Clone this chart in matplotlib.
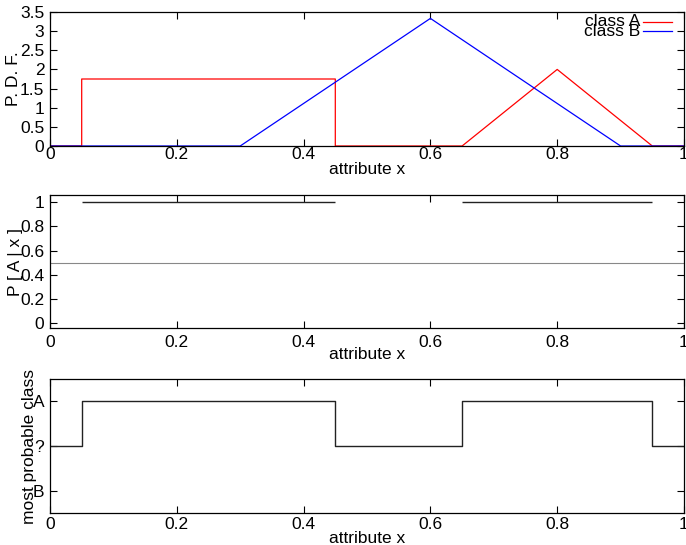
import numpy as np
import matplotlib
matplotlib.use("Agg")
import matplotlib.pyplot as plt

plt.rcParams['font.family'] = ['Liberation Sans', 'DejaVu Sans']
plt.rcParams['font.size'] = 12.5

# pdf of each class
x_a = [0, 0.05, 0.05, 0.45, 0.45, 0.65, 0.8, 0.95, 1]
pdf_a = [0, 0, 1.75, 1.75, 0, 0, 2, 0, 0]
x_b = [0, 0.3, 0.6, 0.9, 1]
pdf_b = [0, 0, 3.333, 0, 0]

# P[A|x] where defined
seg_starts = [0.05, 0.65]
seg_ends = [0.45, 0.95]
seg_vals = [1, 1]
threshold = 0.5

# most probable class (1 = A, 0 = ?, -1 = B)
x_cls = [0, 0.05, 0.05, 0.45, 0.45, 0.65, 0.65, 0.95, 0.95, 1]
cls = [0, 0, 1, 1, 0, 0, 1, 1, 0, 0]
cls_ticks = [-1, 0, 1]
cls_labels = ['B', '?', 'A']

xticks = [0, 0.2, 0.4, 0.6, 0.8, 1]
xticklabels = ['0', '0.2', '0.4', '0.6', '0.8', '1']

fig = plt.figure(figsize=(6.86, 5.45), dpi=100)
W, H = 686, 545
left, right = 50, 684

def make_ax(top, bottom):
    ax = fig.add_axes([left / W, 1 - bottom / H, (right - left) / W, (bottom - top) / H])
    ax.set_xlim(0, 1)
    ax.set_xticks(xticks)
    ax.set_xticklabels(xticklabels)
    ax.tick_params(direction='in', length=5, width=0.8, top=True, right=True, colors='black')
    ax.tick_params(axis='y', pad=4)
    for s in ax.spines.values():
        s.set_linewidth(0.9)
    return ax

# top panel
ax1 = make_ax(12, 146)
ax1.plot(x_a, pdf_a, color='#ff0000', lw=0.9)
ax1.plot(x_b, pdf_b, color='#0000ff', lw=0.9)
ax1.set_ylim(0, 3.5)
ax1.set_yticks(np.arange(0, 3.51, 0.5))
ax1.set_yticklabels(['0', '0.5', '1', '1.5', '2', '2.5', '3', '3.5'])
ax1.tick_params(axis='x', pad=1)
ax1.set_xlabel('attribute x', labelpad=0)
ax1.set_ylabel('P. D. F.', va='center')
ax1.yaxis.set_label_coords(-0.058, 0.5)
# legend
for lbl, col, yy in [('class A', '#ff0000', 22), ('class B', '#0000ff', 31)]:
    yf = 1 - (yy - 12) / 134
    ax1.text((640 - left) / 634, yf, lbl, ha='right', va='center', transform=ax1.transAxes)
    ax1.plot([(643 - left) / 634, (672 - left) / 634], [yf, yf], color=col, lw=0.9,
             transform=ax1.transAxes)

# middle panel
ax2 = make_ax(195, 328)
ax2.axhline(threshold, color='#888888', lw=0.8)
ax2.hlines(seg_vals, seg_starts, seg_ends, color='#222222', lw=1.0)
ax2.set_ylim(-0.04, 1.06)
ax2.set_yticks([0, 0.2, 0.4, 0.6, 0.8, 1])
ax2.set_yticklabels(['0', '0.2', '0.4', '0.6', '0.8', '1'])
ax2.tick_params(axis='x', pad=5)
ax2.set_xlabel('attribute x', labelpad=-2)
ax2.set_ylabel('P [ A | x ]', va='center')
ax2.yaxis.set_label_coords(-0.055, 0.5)

# bottom panel
ax3 = make_ax(379, 513)
ax3.plot(x_cls, cls, color='#222222', lw=1.0)
ax3.set_ylim(-1.5, 1.5)
ax3.set_yticks(cls_ticks)
ax3.set_yticklabels(cls_labels)
ax3.tick_params(axis='x', pad=3)
ax3.set_xlabel('attribute x', labelpad=-1)
ax3.set_ylabel('most probable class', va='center')
ax3.yaxis.set_label_coords(-0.032, 0.5)

fig.savefig('out.png', dpi=100)
